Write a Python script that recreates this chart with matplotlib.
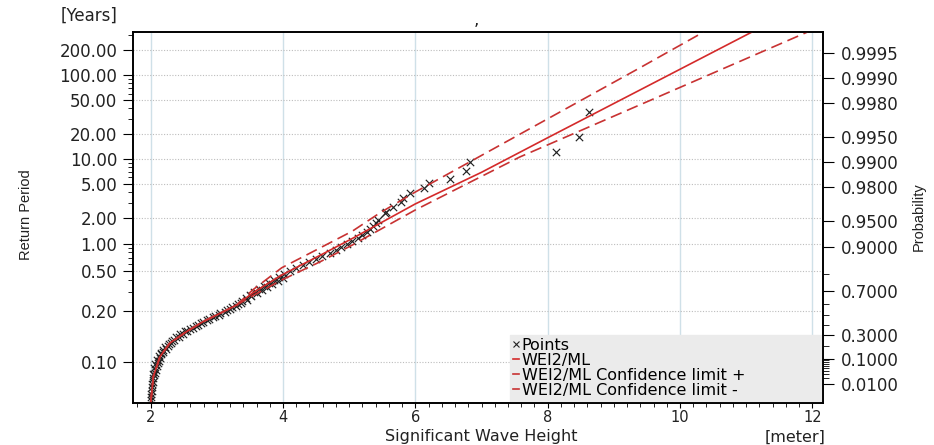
import numpy as np
import matplotlib.pyplot as plt
from matplotlib.lines import Line2D
from matplotlib.ticker import NullFormatter

plt.rcParams['font.family'] = ['DejaVu Sans']

# probability paper: Gumbel scale, 1 - P = C / T
C = 0.092

# observed points (Hs [m], return period [years])
pts_x = [2.00, 2.005, 2.01, 2.014, 2.02, 2.027, 2.035, 2.04, 2.05, 2.062, 2.077, 2.095,
         2.11, 2.125, 2.148, 2.163, 2.19, 2.228, 2.26, 2.306, 2.358, 2.424, 2.49, 2.555,
         2.635, 2.71, 2.79, 2.875, 2.965, 3.054, 3.147, 3.227, 3.318, 3.378, 3.44, 3.503,
         3.568, 3.642, 3.716, 3.786, 3.861, 3.937, 4.012, 4.103, 4.20, 4.30, 4.39, 4.495,
         4.586, 4.706, 4.80, 4.872, 4.963, 5.04, 5.13, 5.19, 5.265, 5.31, 5.355, 5.40,
         5.43, 5.54, 5.56, 5.66, 5.79, 5.81, 5.92, 6.13, 6.21, 6.52, 6.77, 6.83,
         8.13, 8.48, 8.63,
         2.03, 2.05, 2.07, 2.09, 2.12, 2.15, 2.18, 2.22, 2.27, 2.32, 2.38, 2.45,
         2.52, 2.60, 2.68, 2.76, 2.85, 2.94, 3.03, 3.12, 3.20, 3.29, 3.37, 3.45,
         3.52, 3.60, 3.68, 3.76, 3.84, 3.92, 4.00]
pts_T = [0.09207, 0.09213, 0.09222, 0.09235, 0.0926, 0.0929, 0.0932, 0.0938, 0.0945, 0.0953,
         0.0962, 0.0977, 0.0993, 0.1008, 0.1031, 0.1057, 0.1083, 0.1114, 0.1153, 0.1193,
         0.1233, 0.1289, 0.1346, 0.1403, 0.1475, 0.1554, 0.1632, 0.1720, 0.1826, 0.1932,
         0.2039, 0.2182, 0.2325, 0.2468, 0.2643, 0.2833, 0.302, 0.3234, 0.3486, 0.3738,
         0.399, 0.432, 0.466, 0.499, 0.539, 0.583, 0.627, 0.676, 0.734, 0.792, 0.850,
         0.927, 1.004, 1.080, 1.173, 1.27, 1.37, 1.48, 1.60, 1.74, 1.88, 2.25, 2.35,
         2.65, 3.1, 3.4, 3.95, 4.45, 5.1, 5.8, 7.1, 9.1, 12.0, 18.1, 36.2,
         0.0950, 0.0968, 0.0990, 0.1012, 0.1040, 0.1070, 0.1102, 0.1138, 0.1180, 0.1225,
         0.1275, 0.1330, 0.1390, 0.1452, 0.1520, 0.1595, 0.1675, 0.1765, 0.1865, 0.1975,
         0.2095, 0.2230, 0.2380, 0.2540, 0.2720, 0.2920, 0.3130, 0.3370, 0.3620, 0.3900,
         0.4200]

# fitted WEI2/ML line and confidence limits
fit_x = [2.00, 2.04, 2.14, 2.29, 2.54, 2.79, 3.05, 3.30, 3.54, 3.98, 4.56, 5.05, 6.00, 7.00, 8.00, 9.39, 11.09]
fit_T = [0.09204, 0.0942, 0.1038, 0.1188, 0.1385, 0.1634, 0.1912, 0.2262, 0.2942, 0.4505,
         0.740, 1.153, 2.91, 6.89, 17.8, 66.0, 328.6]
up_x = [2.00, 2.04, 2.14, 2.29, 2.54, 2.79, 3.05, 3.30, 3.54, 3.98, 4.56, 5.05, 5.46, 6.00, 9.39, 10.36]
up_T = [0.09204, 0.0942, 0.1038, 0.1188, 0.1385, 0.1634, 0.1912, 0.2262, 0.315, 0.539,
        0.897, 1.40, 2.27, 4.02, 121.7, 328.6]
lo_x = [2.00, 2.04, 2.14, 2.29, 2.54, 2.79, 3.05, 3.30, 3.54, 3.98, 4.56, 5.05, 6.00, 7.58, 9.39, 11.93]
lo_T = [0.09204, 0.0942, 0.1038, 0.1188, 0.1385, 0.1634, 0.1912, 0.2262, 0.276, 0.399,
        0.627, 0.97, 2.47, 10.5, 43.9, 328.6]

# axis ticks
left_major = [200, 100, 50, 20, 10, 5, 2, 1, 0.5, 0.2, 0.1]
left_labels = ['200.00', '100.00', '50.00', '20.00', '10.00', '5.00', '2.00', '1.00', '0.50', '0.20', '0.10']
left_minor = [300, 90, 80, 70, 60, 40, 30, 9, 8, 7, 6, 4, 3, 0.9, 0.8, 0.7, 0.6, 0.4, 0.3]
prob_major = [0.9995, 0.999, 0.998, 0.995, 0.99, 0.98, 0.95, 0.9, 0.7, 0.3, 0.1, 0.01]
prob_labels = ['0.9995', '0.9990', '0.9980', '0.9950', '0.9900', '0.9800', '0.9500',
               '0.9000', '0.7000', '0.3000', '0.1000', '0.0100']
prob_minor = [0.8, 0.6, 0.5, 0.4, 0.2, 0.09, 0.08, 0.07, 0.06, 0.05, 0.04, 0.03, 0.02]


def fwd(t):
    t = np.asarray(t, dtype=float)
    with np.errstate(divide='ignore', invalid='ignore'):
        p = np.clip(1.0 - C / t, 1e-300, 1 - 1e-16)
        return -np.log(-np.log(p))


def inv(y):
    y = np.asarray(y, dtype=float)
    with np.errstate(over='ignore'):
        return C / -np.expm1(-np.exp(-y))


RED = '#d42a2a'
RED2 = '#c83232'
TXT = '#222222'

fig = plt.figure(figsize=(9.34, 4.45), dpi=100)
ax = fig.add_axes([133.3 / 934, 1 - 403 / 445, 689.4 / 934, 371 / 445])
ax.set_yscale('function', functions=(fwd, inv))

ax.scatter(pts_x, pts_T, marker='x', s=28, c='#222222', linewidths=0.85, zorder=3)
ax.plot(fit_x, fit_T, color=RED, lw=1.2, zorder=4)
ax.plot(up_x, up_T, color=RED2, lw=1.2, dashes=(7, 3.5), zorder=4)
ax.plot(lo_x, lo_T, color=RED2, lw=1.2, dashes=(7, 3.5), zorder=4)

ax.set_xlim(1.737, 12.157)
ax.set_ylim(0.092038, 328)

ax.set_xticks([2, 4, 6, 8, 10, 12])
ax.set_xticks(np.arange(1.8, 12.1, 0.2), minor=True)
ax.set_yticks(left_major, left_labels)
ax.set_yticks(left_minor, minor=True)
ax.yaxis.set_minor_formatter(NullFormatter())

ax.set_axisbelow(True)
ax.xaxis.grid(True, color='#cfe0e8', lw=1.0)
ax.yaxis.grid(True, which='major', color='#bdbdbd', ls=(0, (1, 1.5)), lw=0.8)

ax.tick_params(axis='y', which='major', length=7.2, width=0.8, pad=4.3, labelsize=12, labelcolor=TXT)
ax.tick_params(axis='y', which='minor', length=3.4, width=0.6)
ax.tick_params(axis='x', which='major', length=3.6, width=0.8, pad=1.2, labelsize=10.5, labelcolor=TXT)
ax.tick_params(axis='x', which='minor', length=3.0, width=0.6)
for s in ax.spines.values():
    s.set_linewidth(1.2)

ax2 = ax.twinx()
ax2.set_yscale('function', functions=(fwd, inv))
ax2.set_ylim(ax.get_ylim())
ax2.set_yticks([C / (1 - p) for p in prob_major], prob_labels)
ax2.set_yticks([C / (1 - p) for p in prob_minor], minor=True)
ax2.yaxis.set_minor_formatter(NullFormatter())
ax2.tick_params(axis='y', which='major', length=8, width=0.8, pad=5, labelsize=12, labelcolor=TXT)
ax2.tick_params(axis='y', which='minor', length=4, width=0.6)
for s in ax2.spines.values():
    s.set_linewidth(1.2)

handles = [Line2D([], [], ls='none', marker='x', color='#222222', ms=4, mew=0.8),
           Line2D([], [], color=RED, lw=1.2),
           Line2D([], [], color=RED2, lw=1.2),
           Line2D([], [], color=RED2, lw=1.2)]
labels = ['Points', 'WEI2/ML', 'WEI2/ML Confidence limit +', 'WEI2/ML Confidence limit -']
leg = ax.legend(handles, labels, loc='lower left', bbox_to_anchor=(0.546, 0.005, 0.452, 0.184),
                mode='expand', frameon=True, facecolor='#ebebeb', edgecolor='#ebebeb',
                framealpha=1, fancybox=False, handlelength=0.4, handletextpad=0.15,
                borderpad=0.2, labelspacing=0.0, borderaxespad=0, fontsize=11.5)

fig.text(117 / 934, 1 - 16 / 445, '[Years]', ha='right', va='center', fontsize=12, color=TXT)
fig.text(476 / 934, 1 - 20 / 445, ',', ha='center', va='center', fontsize=12, color=TXT)
fig.text(26 / 934, 1 - 215 / 445, 'Return Period', rotation=90, ha='center', va='center',
         fontsize=10.5, family=['Liberation Sans', 'DejaVu Sans'], color=TXT)
fig.text(919 / 934, 1 - 217 / 445, 'Probability', rotation=90, ha='center', va='center',
         fontsize=10.5, family=['Liberation Sans', 'DejaVu Sans'], color=TXT)
fig.text(481 / 934, 1 - 444.5 / 445, 'Significant Wave Height', ha='center', va='bottom',
         fontsize=11.5, color=TXT)
fig.text(826 / 934, 1 - 444.5 / 445, '[meter]', ha='right', va='bottom', fontsize=11.5, color=TXT)

fig.savefig('out.png', dpi=100)
